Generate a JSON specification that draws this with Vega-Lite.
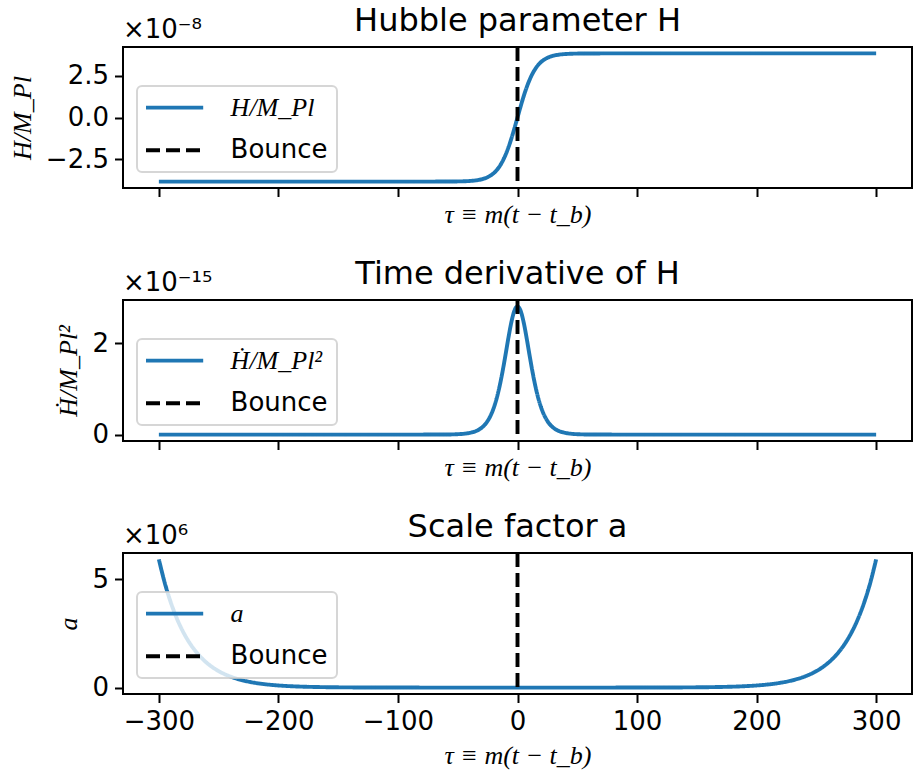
{
  "$schema": "https://vega.github.io/schema/vega-lite/v6.json",
  "background": "white",
  "padding": {"left": 8, "top": 4, "right": 5, "bottom": 2},
  "spacing": 28,
  "config": {
    "view": {"stroke": "black", "strokeWidth": 2},
    "font": "DejaVu Sans",
    "axis": {
      "domain": false, "grid": false,
      "tickColor": "black", "tickWidth": 2, "tickSize": 8.5,
      "labelFont": "DejaVu Sans", "labelFontSize": 26, "labelColor": "black", "labelPadding": 6,
      "titleFont": "Liberation Serif", "titleFontStyle": "italic", "titleFontWeight": "normal",
      "titleFontSize": 26, "titleColor": "black"
    },
    "title": {"font": "DejaVu Sans", "fontSize": 32, "fontWeight": "normal", "color": "black", "frame": "group", "offset": -21},
    "legend": {
      "orient": "none", "legendX": 14, "legendY": 39, "title": null,
      "symbolType": "M-2.6,0L2.6,0", "symbolSize": 484, "symbolStrokeWidth": 3.9, "symbolOffset": 16,
      "symbolFillColor": "transparent",
      "labelFontSize": 26, "labelFont": "DejaVu Sans", "labelColor": "black",
      "padding": 8.6, "rowPadding": 16.7, "labelOffset": 43,
      "strokeColor": "rgba(204,204,204,0.8)", "fillColor": "rgba(255,255,255,0.8)",
      "cornerRadius": 5, "strokeWidth": 2
    }
  },
  "datasets": {
    "H": [
      {"tau": -300, "value": -3.83, "series": "H/M_Pl"},
      {"tau": -100, "value": -3.83, "series": "H/M_Pl"},
      {"tau": -80, "value": -3.83, "series": "H/M_Pl"},
      {"tau": -60, "value": -3.827, "series": "H/M_Pl"},
      {"tau": -50, "value": -3.82, "series": "H/M_Pl"},
      {"tau": -40, "value": -3.793, "series": "H/M_Pl"},
      {"tau": -35, "value": -3.759, "series": "H/M_Pl"},
      {"tau": -30, "value": -3.692, "series": "H/M_Pl"},
      {"tau": -25, "value": -3.566, "series": "H/M_Pl"},
      {"tau": -20, "value": -3.333, "series": "H/M_Pl"},
      {"tau": -17.5, "value": -3.157, "series": "H/M_Pl"},
      {"tau": -15, "value": -2.917, "series": "H/M_Pl"},
      {"tau": -12.5, "value": -2.613, "series": "H/M_Pl"},
      {"tau": -10, "value": -2.232, "series": "H/M_Pl"},
      {"tau": -7.5, "value": -1.77, "series": "H/M_Pl"},
      {"tau": -5, "value": -1.231, "series": "H/M_Pl"},
      {"tau": -2.5, "value": -0.632, "series": "H/M_Pl"},
      {"tau": 0, "value": 0, "series": "H/M_Pl"},
      {"tau": 2.5, "value": 0.632, "series": "H/M_Pl"},
      {"tau": 5, "value": 1.231, "series": "H/M_Pl"},
      {"tau": 7.5, "value": 1.77, "series": "H/M_Pl"},
      {"tau": 10, "value": 2.232, "series": "H/M_Pl"},
      {"tau": 12.5, "value": 2.613, "series": "H/M_Pl"},
      {"tau": 15, "value": 2.917, "series": "H/M_Pl"},
      {"tau": 17.5, "value": 3.157, "series": "H/M_Pl"},
      {"tau": 20, "value": 3.333, "series": "H/M_Pl"},
      {"tau": 25, "value": 3.566, "series": "H/M_Pl"},
      {"tau": 30, "value": 3.692, "series": "H/M_Pl"},
      {"tau": 35, "value": 3.759, "series": "H/M_Pl"},
      {"tau": 40, "value": 3.793, "series": "H/M_Pl"},
      {"tau": 50, "value": 3.82, "series": "H/M_Pl"},
      {"tau": 60, "value": 3.827, "series": "H/M_Pl"},
      {"tau": 80, "value": 3.83, "series": "H/M_Pl"},
      {"tau": 100, "value": 3.83, "series": "H/M_Pl"},
      {"tau": 300, "value": 3.83, "series": "H/M_Pl"}
    ],
    "Hdot": [
      {"tau": -300, "value": 0, "series": "Ḣ/M_Pl²"},
      {"tau": -100, "value": 0, "series": "Ḣ/M_Pl²"},
      {"tau": -80, "value": 0.0003, "series": "Ḣ/M_Pl²"},
      {"tau": -60, "value": 0.0021, "series": "Ḣ/M_Pl²"},
      {"tau": -50, "value": 0.0089, "series": "Ḣ/M_Pl²"},
      {"tau": -40, "value": 0.0367, "series": "Ḣ/M_Pl²"},
      {"tau": -35, "value": 0.0745, "series": "Ḣ/M_Pl²"},
      {"tau": -30, "value": 0.15, "series": "Ḣ/M_Pl²"},
      {"tau": -25, "value": 0.297, "series": "Ḣ/M_Pl²"},
      {"tau": -20, "value": 0.575, "series": "Ḣ/M_Pl²"},
      {"tau": -17.5, "value": 0.785, "series": "Ḣ/M_Pl²"},
      {"tau": -15, "value": 1.052, "series": "Ḣ/M_Pl²"},
      {"tau": -12.5, "value": 1.378, "series": "Ḣ/M_Pl²"},
      {"tau": -10, "value": 1.746, "series": "Ḣ/M_Pl²"},
      {"tau": -7.5, "value": 2.129, "series": "Ḣ/M_Pl²"},
      {"tau": -5, "value": 2.471, "series": "Ḣ/M_Pl²"},
      {"tau": -2.5, "value": 2.713, "series": "Ḣ/M_Pl²"},
      {"tau": 0, "value": 2.8, "series": "Ḣ/M_Pl²"},
      {"tau": 2.5, "value": 2.713, "series": "Ḣ/M_Pl²"},
      {"tau": 5, "value": 2.471, "series": "Ḣ/M_Pl²"},
      {"tau": 7.5, "value": 2.129, "series": "Ḣ/M_Pl²"},
      {"tau": 10, "value": 1.746, "series": "Ḣ/M_Pl²"},
      {"tau": 12.5, "value": 1.378, "series": "Ḣ/M_Pl²"},
      {"tau": 15, "value": 1.052, "series": "Ḣ/M_Pl²"},
      {"tau": 17.5, "value": 0.785, "series": "Ḣ/M_Pl²"},
      {"tau": 20, "value": 0.575, "series": "Ḣ/M_Pl²"},
      {"tau": 25, "value": 0.297, "series": "Ḣ/M_Pl²"},
      {"tau": 30, "value": 0.15, "series": "Ḣ/M_Pl²"},
      {"tau": 35, "value": 0.0745, "series": "Ḣ/M_Pl²"},
      {"tau": 40, "value": 0.0367, "series": "Ḣ/M_Pl²"},
      {"tau": 50, "value": 0.0089, "series": "Ḣ/M_Pl²"},
      {"tau": 60, "value": 0.0021, "series": "Ḣ/M_Pl²"},
      {"tau": 80, "value": 0.0003, "series": "Ḣ/M_Pl²"},
      {"tau": 100, "value": 0, "series": "Ḣ/M_Pl²"},
      {"tau": 300, "value": 0, "series": "Ḣ/M_Pl²"}
    ],
    "a": [
      {"tau": -300, "value": 5.92, "series": "a"},
      {"tau": -295, "value": 4.822, "series": "a"},
      {"tau": -290, "value": 3.929, "series": "a"},
      {"tau": -285, "value": 3.2, "series": "a"},
      {"tau": -280, "value": 2.607, "series": "a"},
      {"tau": -275, "value": 2.124, "series": "a"},
      {"tau": -270, "value": 1.73, "series": "a"},
      {"tau": -265, "value": 1.41, "series": "a"},
      {"tau": -260, "value": 1.148, "series": "a"},
      {"tau": -255, "value": 0.935, "series": "a"},
      {"tau": -250, "value": 0.762, "series": "a"},
      {"tau": -240, "value": 0.506, "series": "a"},
      {"tau": -230, "value": 0.336, "series": "a"},
      {"tau": -220, "value": 0.223, "series": "a"},
      {"tau": -210, "value": 0.148, "series": "a"},
      {"tau": -200, "value": 0.098, "series": "a"},
      {"tau": -190, "value": 0.065, "series": "a"},
      {"tau": -180, "value": 0.043, "series": "a"},
      {"tau": -170, "value": 0.029, "series": "a"},
      {"tau": -160, "value": 0.019, "series": "a"},
      {"tau": -150, "value": 0.0126, "series": "a"},
      {"tau": -125, "value": 0.0045, "series": "a"},
      {"tau": -100, "value": 0.0016, "series": "a"},
      {"tau": -50, "value": 0.0001, "series": "a"},
      {"tau": 0, "value": 0, "series": "a"},
      {"tau": 50, "value": 0.0001, "series": "a"},
      {"tau": 100, "value": 0.0016, "series": "a"},
      {"tau": 125, "value": 0.0045, "series": "a"},
      {"tau": 150, "value": 0.0126, "series": "a"},
      {"tau": 160, "value": 0.019, "series": "a"},
      {"tau": 170, "value": 0.029, "series": "a"},
      {"tau": 180, "value": 0.043, "series": "a"},
      {"tau": 190, "value": 0.065, "series": "a"},
      {"tau": 200, "value": 0.098, "series": "a"},
      {"tau": 210, "value": 0.148, "series": "a"},
      {"tau": 220, "value": 0.223, "series": "a"},
      {"tau": 230, "value": 0.336, "series": "a"},
      {"tau": 240, "value": 0.506, "series": "a"},
      {"tau": 250, "value": 0.762, "series": "a"},
      {"tau": 255, "value": 0.935, "series": "a"},
      {"tau": 260, "value": 1.148, "series": "a"},
      {"tau": 265, "value": 1.41, "series": "a"},
      {"tau": 270, "value": 1.73, "series": "a"},
      {"tau": 275, "value": 2.124, "series": "a"},
      {"tau": 280, "value": 2.607, "series": "a"},
      {"tau": 285, "value": 3.2, "series": "a"},
      {"tau": 290, "value": 3.929, "series": "a"},
      {"tau": 295, "value": 4.822, "series": "a"},
      {"tau": 300, "value": 5.92, "series": "a"}
    ]
  },
  "resolve": {
    "scale": {"x": "independent", "y": "independent", "color": "independent", "strokeDash": "independent"},
    "legend": {"color": "independent", "strokeDash": "independent"}
  },
  "vconcat": [
    {
      "width": 789, "height": 141,
      "title": {"text": "Hubble parameter H"},
      "layer": [
        {
          "data": {"name": "H"},
          "mark": {"type": "line", "strokeWidth": 3.9, "interpolate": "monotone"},
          "encoding": {
            "x": {"field": "tau", "type": "quantitative", "scale": {"domain": [-330, 330], "nice": false, "zero": false},
                  "axis": {"values": [-300, -200, -100, 0, 100, 200, 300], "labels": false, "title": "τ ≡ m(t − t_b)", "titlePadding": 4}},
            "y": {"field": "value", "type": "quantitative", "scale": {"domain": [-4.213, 4.213], "nice": false, "zero": false},
                  "axis": {"values": [-2.5, 0, 2.5], "format": ".1f", "title": "H/M_Pl", "titlePadding": 10}},
            "color": {"field": "series", "type": "nominal", "scale": {"domain": ["H/M_Pl", "Bounce"], "range": ["#1f77b4", "black"]},
                      "legend": {"encode": {"labels": {"update": {"font": {"signal": "datum.label === 'Bounce' ? 'DejaVu Sans' : 'Liberation Serif'"}, "fontStyle": {"signal": "datum.label === 'Bounce' ? 'normal' : 'italic'"}}}}}},
            "strokeDash": {"field": "series", "type": "nominal", "scale": {"domain": ["H/M_Pl", "Bounce"], "range": [[1, 0], [14, 6]]}}
          }
        },
        {
          "data": {"values": [{"tau": 0, "series": "Bounce"}]},
          "mark": {"type": "rule", "strokeWidth": 3.9},
          "encoding": {
            "x": {"field": "tau", "type": "quantitative"},
            "color": {"field": "series", "type": "nominal"},
            "strokeDash": {"field": "series", "type": "nominal"}
          }
        },
        {
          "data": {"values": [{"label": "×10⁻⁸"}]},
          "mark": {"type": "text", "align": "left", "baseline": "bottom", "dy": -4, "fontSize": 26, "font": "DejaVu Sans", "color": "black"},
          "encoding": {"x": {"datum": -330}, "y": {"datum": 4.213}, "text": {"field": "label"}}
        }
      ]
    },
    {
      "width": 789, "height": 141,
      "title": {"text": "Time derivative of H"},
      "layer": [
        {
          "data": {"name": "Hdot"},
          "mark": {"type": "line", "strokeWidth": 3.9, "interpolate": "monotone"},
          "encoding": {
            "x": {"field": "tau", "type": "quantitative", "scale": {"domain": [-330, 330], "nice": false, "zero": false},
                  "axis": {"values": [-300, -200, -100, 0, 100, 200, 300], "labels": false, "title": "τ ≡ m(t − t_b)", "titlePadding": 4}},
            "y": {"field": "value", "type": "quantitative", "scale": {"domain": [-0.14, 2.94], "nice": false, "zero": false},
                  "axis": {"values": [0, 2], "format": "d", "title": "Ḣ/M_Pl²", "titlePadding": 10}},
            "color": {"field": "series", "type": "nominal", "scale": {"domain": ["Ḣ/M_Pl²", "Bounce"], "range": ["#1f77b4", "black"]},
                      "legend": {"encode": {"labels": {"update": {"font": {"signal": "datum.label === 'Bounce' ? 'DejaVu Sans' : 'Liberation Serif'"}, "fontStyle": {"signal": "datum.label === 'Bounce' ? 'normal' : 'italic'"}}}}}},
            "strokeDash": {"field": "series", "type": "nominal", "scale": {"domain": ["Ḣ/M_Pl²", "Bounce"], "range": [[1, 0], [14, 6]]}}
          }
        },
        {
          "data": {"values": [{"tau": 0, "series": "Bounce"}]},
          "mark": {"type": "rule", "strokeWidth": 3.9},
          "encoding": {
            "x": {"field": "tau", "type": "quantitative"},
            "color": {"field": "series", "type": "nominal"},
            "strokeDash": {"field": "series", "type": "nominal"}
          }
        },
        {
          "data": {"values": [{"label": "×10⁻¹⁵"}]},
          "mark": {"type": "text", "align": "left", "baseline": "bottom", "dy": -4, "fontSize": 26, "font": "DejaVu Sans", "color": "black"},
          "encoding": {"x": {"datum": -330}, "y": {"datum": 2.94}, "text": {"field": "label"}}
        }
      ]
    },
    {
      "width": 789, "height": 141,
      "title": {"text": "Scale factor a"},
      "layer": [
        {
          "data": {"name": "a"},
          "mark": {"type": "line", "strokeWidth": 3.9, "interpolate": "monotone"},
          "encoding": {
            "x": {"field": "tau", "type": "quantitative", "scale": {"domain": [-330, 330], "nice": false, "zero": false},
                  "axis": {"values": [-300, -200, -100, 0, 100, 200, 300], "format": "d", "title": "τ ≡ m(t − t_b)", "titlePadding": 8, "labelPadding": 6}},
            "y": {"field": "value", "type": "quantitative", "scale": {"domain": [-0.296, 6.216], "nice": false, "zero": false},
                  "axis": {"values": [0, 5], "format": "d", "title": "a", "titlePadding": 10}},
            "color": {"field": "series", "type": "nominal", "scale": {"domain": ["a", "Bounce"], "range": ["#1f77b4", "black"]},
                      "legend": {"encode": {"labels": {"update": {"font": {"signal": "datum.label === 'Bounce' ? 'DejaVu Sans' : 'Liberation Serif'"}, "fontStyle": {"signal": "datum.label === 'Bounce' ? 'normal' : 'italic'"}}}}}},
            "strokeDash": {"field": "series", "type": "nominal", "scale": {"domain": ["a", "Bounce"], "range": [[1, 0], [14, 6]]}}
          }
        },
        {
          "data": {"values": [{"tau": 0, "series": "Bounce"}]},
          "mark": {"type": "rule", "strokeWidth": 3.9},
          "encoding": {
            "x": {"field": "tau", "type": "quantitative"},
            "color": {"field": "series", "type": "nominal"},
            "strokeDash": {"field": "series", "type": "nominal"}
          }
        },
        {
          "data": {"values": [{"label": "×10⁶"}]},
          "mark": {"type": "text", "align": "left", "baseline": "bottom", "dy": -4, "fontSize": 26, "font": "DejaVu Sans", "color": "black"},
          "encoding": {"x": {"datum": -330}, "y": {"datum": 6.216}, "text": {"field": "label"}}
        }
      ]
    }
  ]
}
